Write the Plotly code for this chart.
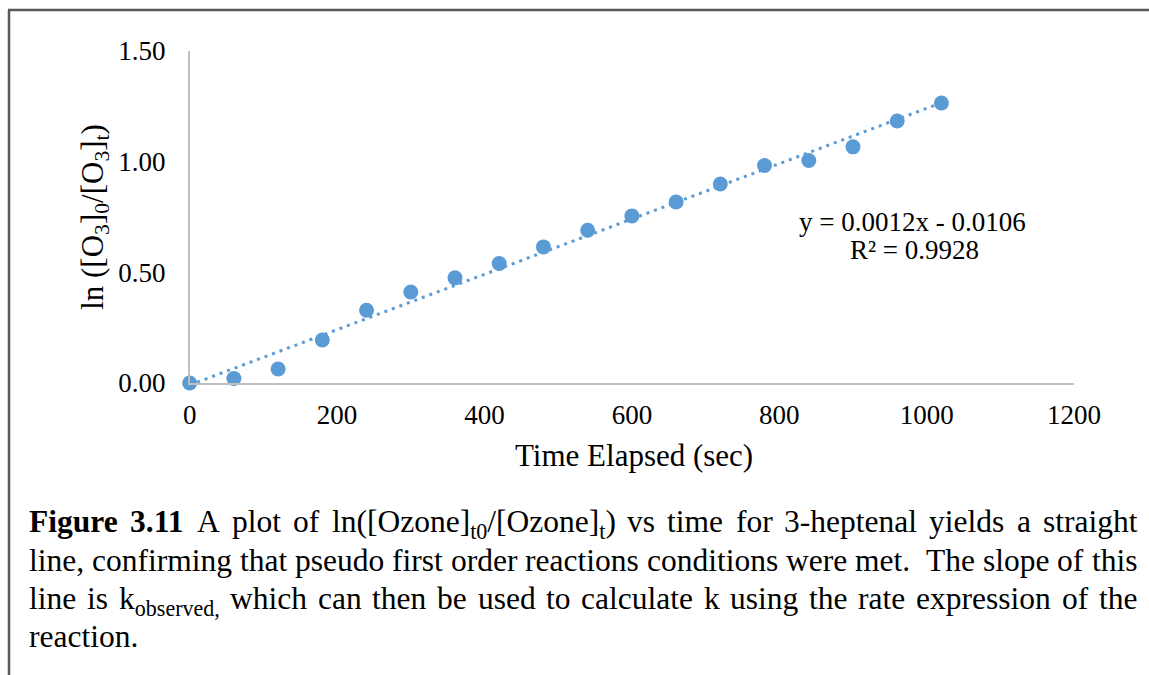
import re
import numpy as np
import plotly.graph_objects as go

# ---------------- data ----------------
time_sec = [0, 60, 120, 180, 240, 300, 360, 420, 480, 540, 600, 660, 720, 780, 840, 900, 960, 1020]
ln_ratio = [0.000, 0.020, 0.063, 0.194, 0.329, 0.411, 0.475, 0.540, 0.615, 0.690, 0.755,
            0.818, 0.899, 0.983, 1.005, 1.067, 1.184, 1.265]

x_ticks = [0, 200, 400, 600, 800, 1000, 1200]
y_ticks = [0.0, 0.5, 1.0, 1.5]

equation_text = "y = 0.0012x - 0.0106"
r2_text = "R² = 0.9928"

caption_lines = [
    "<b>Figure</b> <b>3.11</b> A plot of ln([Ozone]<sub>t0</sub>/[Ozone]<sub>t</sub>) vs time for 3-heptenal yields a straight",
    "line, confirming that pseudo first order reactions conditions were met.  The slope of this",
    "line is k<sub>observed,</sub> which can then be used to calculate k using the rate expression of the",
    "reaction.",
]

# ---------------- helpers ----------------
W, H = 1149, 675
# observed drawing box of the paper area (offset and size), used to place things in paper units
OX, OY, CW, CH = 6, 14, 1117, 645
FONT = "Liberation Serif, Times New Roman, serif"
BLUE = "#5B9BD5"


def px(x):
    return (x - OX) / CW


def py(y):
    return 1 - (y - OY) / CH


ROMAN = {' ': 250, '(': 333, ')': 333, ',': 250, '-': 333, '.': 250, '/': 278, '[': 333, ']': 333}
ROMAN.update({d: 500 for d in "0123456789"})
ROMAN.update(dict(zip("ABCDEFGHIJKLMNOPQRSTUVWXYZ",
                      [722, 667, 667, 722, 611, 556, 722, 722, 333, 389, 722, 611, 889, 722, 722, 556,
                       722, 667, 556, 611, 722, 722, 944, 722, 722, 611])))
ROMAN.update(dict(zip("abcdefghijklmnopqrstuvwxyz",
                      [444, 500, 444, 500, 444, 333, 500, 500, 278, 278, 500, 278, 778, 500, 500, 500,
                       500, 333, 389, 278, 500, 500, 722, 500, 500, 444])))
BOLD = dict(ROMAN)
BOLD.update({'F': 611, 'u': 556, 'r': 444, 'e': 444})


def html_width(s, fs):
    bold = False
    sub = False
    w = 0.0
    for part in re.split(r'(</?b>|</?sub>)', s):
        if part == '<b>':
            bold = True
        elif part == '</b>':
            bold = False
        elif part == '<sub>':
            sub = True
        elif part == '</sub>':
            sub = False
        else:
            table = BOLD if bold else ROMAN
            scale = 0.7 if sub else 1.0
            w += sum(table.get(c, 500) for c in part) / 1000 * fs * scale
    return w


# ---------------- figure ----------------
slope, intercept = np.polyfit(time_sec, ln_ratio, 1)
trend_x = [time_sec[0], time_sec[-1]]
trend_y = [slope * t + intercept for t in trend_x]

fig = go.Figure()
fig.add_trace(go.Scatter(x=time_sec, y=ln_ratio, mode="markers",
                         marker=dict(size=15, color=BLUE, line=dict(width=0)),
                         cliponaxis=False, showlegend=False))
fig.add_trace(go.Scatter(x=trend_x, y=trend_y, mode="lines",
                         line=dict(color=BLUE, width=3, dash="3px,5px"),
                         cliponaxis=False, showlegend=False))

annotations = []

# axis titles
annotations.append(dict(text="Time Elapsed (sec)", x=px(634), y=py(455), xref="paper", yref="paper",
                        showarrow=False, xanchor="center", yanchor="middle",
                        font=dict(family=FONT, size=31, color="black")))
annotations.append(dict(text="ln ([O<sub>3</sub>]<sub>0</sub>/[O<sub>3</sub>]<sub>t</sub>)",
                        x=px(94), y=py(216), xref="paper", yref="paper", textangle=-90,
                        showarrow=False, xanchor="center", yanchor="middle",
                        font=dict(family=FONT, size=31, color="black")))

# trendline label
annotations.append(dict(text=equation_text, x=px(913), y=py(221), xref="paper", yref="paper",
                        showarrow=False, xanchor="center", yanchor="middle",
                        font=dict(family=FONT, size=27, color="black")))
annotations.append(dict(text=r2_text, x=px(915), y=py(249), xref="paper", yref="paper",
                        showarrow=False, xanchor="center", yanchor="middle",
                        font=dict(family=FONT, size=27, color="black")))

# caption, justified word by word (top-anchored so subscripts do not lift a word)
CAP_FS = 31.5
cap_left, cap_right = 28, 1138
cap_top = [503, 542, 580, 618]
for i, line in enumerate(caption_lines):
    words = line.split(" ")
    space = 0.25 * CAP_FS
    justify = i < len(caption_lines) - 1
    if justify:
        natural = sum(html_width(wd, CAP_FS) for wd in words) + space * (len(words) - 1)
        space += (cap_right - cap_left - natural) / (len(words) - 1)
    xpos = cap_left
    for wd in words:
        if wd:
            annotations.append(dict(text=wd, x=px(xpos), y=py(cap_top[i]), xref="paper", yref="paper",
                                    showarrow=False, xanchor="left", yanchor="top", borderpad=0,
                                    borderwidth=0,
                                    font=dict(family=FONT, size=CAP_FS, color="black")))
        xpos += html_width(wd, CAP_FS) + space

shapes = [
    dict(type="line", xref="paper", yref="paper", x0=px(8), y0=py(9), x1=px(8), y1=py(680),
         line=dict(color="#595959", width=2.5)),
    dict(type="line", xref="paper", yref="paper", x0=px(7), y0=py(9), x1=px(1152), y1=py(9),
         line=dict(color="#595959", width=2.5)),
]

fig.update_layout(
    width=W, height=H, autosize=False,
    margin=dict(l=0, r=0, t=0, b=0),
    paper_bgcolor="white", plot_bgcolor="white",
    font=dict(family=FONT, color="black"),
    annotations=annotations,
    shapes=shapes,
    xaxis=dict(domain=[px(189), px(1075)], range=[0, 1200], tickvals=x_ticks,
               showgrid=False, zeroline=False, showline=True, linecolor="#bfbfbf", linewidth=1.5,
               ticks="", ticklabelstandoff=7, tickfont=dict(family=FONT, size=27, color="black")),
    yaxis=dict(domain=[py(382), py(50)], range=[0, 1.5], tickvals=y_ticks, tickformat=".2f",
               showgrid=False, zeroline=False, showline=True, linecolor="#bfbfbf", linewidth=1.5,
               ticks="", ticklabelstandoff=17, tickfont=dict(family=FONT, size=27, color="black")),
)

fig.write_html("out.html")
